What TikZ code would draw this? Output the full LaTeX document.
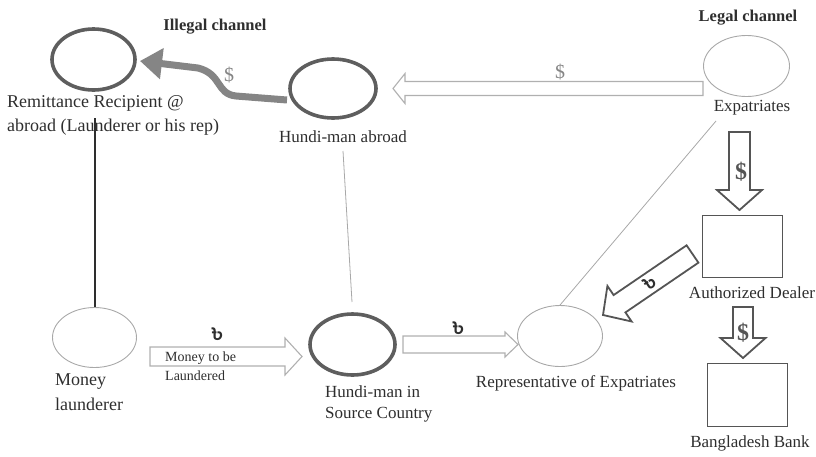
\documentclass[tikz,border=0pt]{standalone}
\usepackage{fontspec}
\setmainfont{Liberation Serif}
\newfontfamily\bnfont[Script=Bengali]{Hind Siliguri}
\usetikzlibrary{shapes.geometric,calc,arrows.meta}

\definecolor{ringgray}{HTML}{5E5E5E}
\definecolor{softgray}{HTML}{A8A8A8}
\definecolor{boxgray}{HTML}{555555}
\definecolor{txt}{HTML}{2E2E2E}
\definecolor{curvegray}{HTML}{858585}
\definecolor{paleline}{HTML}{B0B0B0}

% Block arrow: [style]{from}{to}{shaft half width}{head half width}{head length}
\newcommand\fatarrow[6][]{%
  \draw[#1] ($(#2)!#4!90:(#3)$) -- ($(#3)!#6!(#2)!#4!90:(#3)$)
    -- ($(#3)!#6!(#2)!#5!90:(#3)$) -- (#3)
    -- ($(#3)!#6!(#2)!#5!-90:(#3)$) -- ($(#3)!#6!(#2)!#4!-90:(#3)$)
    -- ($(#2)!#4!-90:(#3)$) -- cycle;}

\begin{document}
\begin{tikzpicture}[x=1pt,y=-1pt,
  thickring/.style={ellipse, draw=ringgray, line width=3.6pt, inner sep=0pt},
  thinring/.style={ellipse, draw=softgray, line width=0.9pt, inner sep=0pt},
  office/.style={rectangle, draw=boxgray, line width=1.8pt, inner sep=0pt},
  lbl/.style={text=txt, inner sep=0pt, font=\fontsize{17}{21}\selectfont},
  heading/.style={text=txt, inner sep=0pt, font=\fontsize{16.5}{19}\selectfont\bfseries},
  palearrow/.style={draw=paleline, line width=1.1pt, fill=white, line join=miter},
  darkarrow/.style={draw=boxgray, line width=1.8pt, fill=white, line join=miter},
  dollar/.style={text=curvegray, inner sep=0pt, font=\fontsize{20}{20}\selectfont},
  bigdollar/.style={text=boxgray, inner sep=0pt, font=\fontsize{24}{24}\selectfont\bfseries},
  taka/.style={text=txt, inner sep=0pt, font=\bnfont\fontsize{19}{19}\selectfont\bfseries},
  link/.style={draw=softgray, line width=0.8pt},
  darklink/.style={draw=txt, line width=1.5pt}]
\useasboundingbox (0,0) rectangle (816,456);

% parties
\node[thickring, minimum width=83pt, minimum height=61pt] (rr) at (93.5,59.5) {};
\node[thickring, minimum width=86pt, minimum height=59pt] (habr) at (333,88.5) {};
\node[thickring, minimum width=85pt, minimum height=61pt] (hsrc) at (352.5,344.5) {};
\node[thinring, minimum width=86pt, minimum height=61pt] (exp) at (746.5,66) {};
\node[thinring, minimum width=85pt, minimum height=61pt] (rep) at (560,336) {};
\node[thinring, minimum width=84pt, minimum height=60pt] (ml) at (94.5,337.5) {};
\node[office, minimum width=80pt, minimum height=62pt] (ad) at (742.5,246.5) {};
\node[office, minimum width=80pt, minimum height=63pt] (bb) at (747.5,395) {};

% headings and labels
\node[heading] (illegal) at (215,27) {Illegal channel};
\node[heading] (legal) at (748,18) {Legal channel};
\node[lbl, anchor=west, align=left, font=\fontsize{18}{24}\selectfont] (rrtext) at (7,115)
  {Remittance Recipient @\\abroad (Launderer or his rep)};
\node[lbl] (habrtext) at (343,137) {Hundi-man abroad};
\node[lbl] (exptext) at (752,108) {Expatriates};
\node[lbl] (adtext) at (752,293) {Authorized Dealer};
\node[lbl] (bbtext) at (750,443) {Bangladesh Bank};
\node[lbl] (reptext) at (576,383) {Representative of Expatriates};
\node[lbl, anchor=west, align=left] (hsrctext) at (325,403.5) {Hundi-man in\\Source Country};
\node[lbl, anchor=west, align=left, font=\fontsize{18}{25}\selectfont] (mltext) at (55,392.5)
  {Money\\launderer};

% connector ends
\coordinate (rrlink) at (95,118);
\coordinate (habrlink) at (343,151);
\coordinate (hsrclink) at (352,302);
\coordinate (explink) at (716,121);
\coordinate (mlout) at (150,356.5);
\coordinate (hsrcin) at (302,356.5);
\coordinate (hsrcout) at (403,344.5);
\coordinate (repin) at (518,344.5);
\coordinate (expout) at (703,88.5);
\coordinate (habrin) at (393,88.5);
\coordinate (expdown) at (739.5,132);
\coordinate (adin) at (739.5,210);
\coordinate (adout) at (743,307);
\coordinate (bbin) at (743,358);
\coordinate (adside) at (692.5,254);
\coordinate (repside) at (603,315);
\coordinate (habrout) at (287,100);
\coordinate (rrin) at (140,61);

% plain links
\draw[darklink] (rrlink) -- (rrlink |- ml.north);
\draw[link] (habrlink) -- (hsrclink);
\draw[link] (explink) -- (rep.north);

% money flows
\fatarrow[palearrow]{mlout}{hsrcin}{9.5pt}{18.5pt}{17pt}
\fatarrow[palearrow]{hsrcout}{repin}{8.5pt}{12.5pt}{13pt}
\fatarrow[palearrow]{expout}{habrin}{7pt}{15pt}{12pt}
\fatarrow[darkarrow]{expdown}{adin}{10.5pt}{22.5pt}{20pt}
\fatarrow[darkarrow]{adout}{bbin}{10pt}{22.5pt}{20pt}
\fatarrow[darkarrow]{adside}{repside}{10.5pt}{21.5pt}{20pt}

\draw[curvegray, line width=7pt, -{Triangle[length=22pt, width=30pt]}]
  (habrout) -- (236,96) .. controls (216,94) and (222,74) .. (198,68) -- (rrin);

% flow labels
\node[lbl, anchor=west, align=left, font=\fontsize{14}{19}\selectfont] (mtbl) at (165,366)
  {Money to be\\Laundered};
\node[dollar] (d1) at (560,72) {\$};
\node[dollar] (d2) at (229,75) {\$};
\node[bigdollar] (d3) at (741,172) {\$};
\node[bigdollar] (d4) at (743,333) {\$};
\node[taka] (t1) at (217,334) {৳};
\node[taka] (t2) at (458,328) {৳};
\node[taka, rotate=34] (t3) at (650,283) {৳};
\end{tikzpicture}
\end{document}
